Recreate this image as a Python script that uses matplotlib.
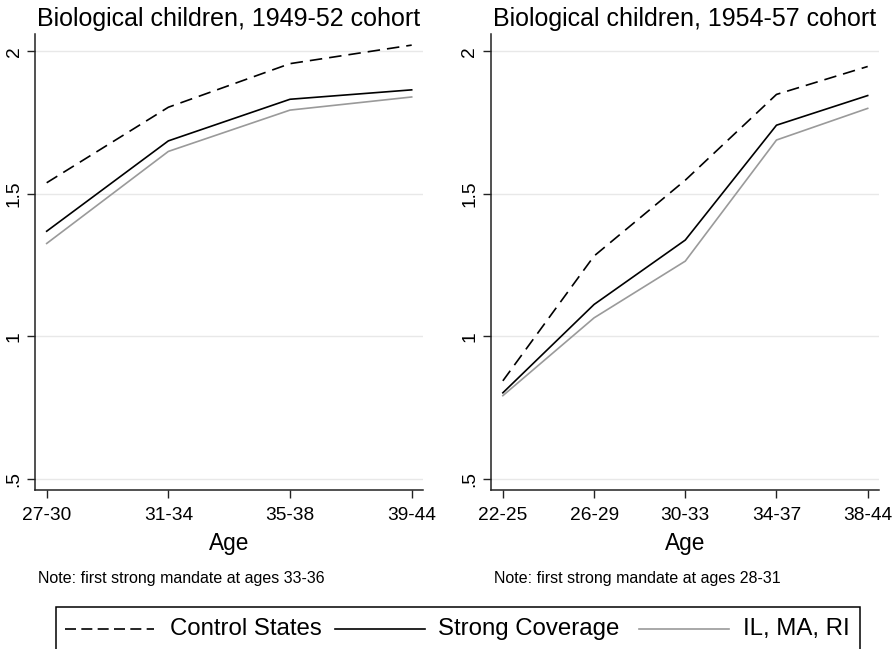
import matplotlib
matplotlib.use("Agg")
import matplotlib.pyplot as plt
from matplotlib.lines import Line2D
from matplotlib.patches import Rectangle

plt.rcParams['font.family'] = ['Liberation Sans', 'DejaVu Sans']

# data
ages_a = ['27-30', '31-34', '35-38', '39-44']
control_a = [1.539, 1.804, 1.957, 2.022]
strong_a = [1.369, 1.686, 1.832, 1.865]
ilmari_a = [1.326, 1.649, 1.794, 1.840]

ages_b = ['22-25', '26-29', '30-33', '34-37', '38-44']
control_b = [0.844, 1.282, 1.548, 1.849, 1.947]
strong_b = [0.802, 1.112, 1.338, 1.741, 1.845]
ilmari_b = [0.792, 1.065, 1.264, 1.689, 1.800]

yticks = [0.5, 1, 1.5, 2]
yticklabels = ['.5', '1', '1.5', '2']

W, H = 894, 649
fig = plt.figure(figsize=(W / 100, H / 100), dpi=100)

DASH = (0, (7.5, 4.2))
LEG_DASH = (0, (6.6, 3.2))
GREY = '#9a9a9a'


def panel(rect, ages, ctrl, strong, il, title, note, xpad):
    ax = fig.add_axes(rect)
    x = list(range(len(ages)))
    ax.plot(x, ctrl, color='black', lw=1.2, linestyle=DASH)
    ax.plot(x, strong, color='black', lw=1.2)
    ax.plot(x, il, color=GREY, lw=1.2)
    ax.set_xlim(-xpad[0], len(ages) - 1 + xpad[1])
    ax.set_ylim(0.461, 2.061)
    ax.set_xticks(x)
    ax.set_xticklabels(ages, fontsize=13.8)
    ax.set_yticks(yticks)
    ax.set_yticklabels(yticklabels, fontsize=13.8, rotation=90, va='center')
    ax.tick_params(direction='out', length=6, width=1, color='#222222', pad=3)
    ax.tick_params(axis='x', pad=6)
    for y in yticks:
        ax.axhline(y, color='#e8e8e8', lw=1, zorder=0)
    for s in ['top', 'right']:
        ax.spines[s].set_visible(False)
    for s in ['left', 'bottom']:
        ax.spines[s].set_linewidth(1.1)
        ax.spines[s].set_color('#222222')
    ax.set_xlabel('Age', fontsize=16.3, labelpad=6)
    ax.set_title(title, fontsize=18, pad=6)
    ax.text(0.007, -0.193, note, transform=ax.transAxes, fontsize=11.5,
            ha='left', va='center')
    return ax


axh = 456 / H
bottom = 1 - 490 / H
panel([35 / W, bottom, 388 / W, axh], ages_a, control_a, strong_a, ilmari_a,
      'Biological children, 1949-52 cohort',
      'Note: first strong mandate at ages 33-36', (0.096, 0.093))
panel([491 / W, bottom, 388 / W, axh], ages_b, control_b, strong_b, ilmari_b,
      'Biological children, 1954-57 cohort',
      'Note: first strong mandate at ages 28-31', (0.13, 0.124))

# legend box, running off the bottom edge like the original
fig.patches.append(Rectangle((56 / W, -0.05), (860 - 56) / W, 0.05 + (1 - 607 / H),
                             transform=fig.transFigure, fill=False,
                             edgecolor='black', lw=1.1))
ly = 1 - 629 / H
entries = [
    (65, 154, 'black', LEG_DASH, 170, 'Control States'),
    (335, 425, 'black', '-', 438, 'Strong Coverage'),
    (639, 729, GREY, '-', 743, 'IL, MA, RI'),
]
for x0, x1, col, ls, tx, label in entries:
    fig.lines.append(Line2D([x0 / W, x1 / W], [ly, ly], transform=fig.transFigure,
                            color=col, lw=1.2, linestyle=ls))
    fig.text(tx / W, ly, label, fontsize=17.3, ha='left', va='center')

fig.savefig('out.png', dpi=100)
